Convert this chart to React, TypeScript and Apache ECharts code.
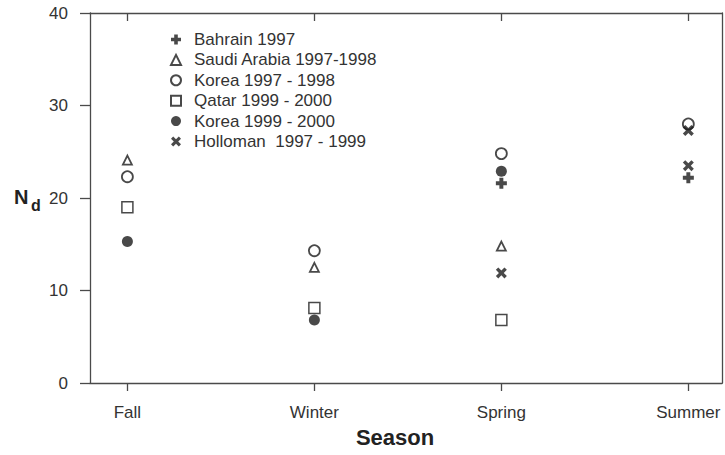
import React, { useEffect, useRef } from "react";
import * as echarts from "echarts";

const seasons = ["Fall", "Winter", "Spring", "Summer"];
const yTicks = [0, 10, 20, 30, 40];

const bahrain: [string, number][] = [["Spring", 21.6], ["Summer", 22.2]];
const saudi: [string, number][] = [["Fall", 24.1], ["Winter", 12.5], ["Spring", 14.8]];
const korea9798: [string, number][] = [["Fall", 22.3], ["Winter", 14.3], ["Spring", 24.8], ["Summer", 28.0]];
const qatar: [string, number][] = [["Fall", 19.0], ["Winter", 8.1], ["Spring", 6.8]];
const korea9900: [string, number][] = [["Fall", 15.3], ["Winter", 6.8], ["Spring", 22.9]];
const holloman: [string, number][] = [["Spring", 11.9], ["Summer", 27.3], ["Summer", 23.5]];

const seriesNames = [
  "Bahrain 1997",
  "Saudi Arabia 1997-1998",
  "Korea 1997 - 1998",
  "Qatar 1999 - 2000",
  "Korea 1999 - 2000",
  "Holloman  1997 - 1999",
];

const PLUS = "path://M3.2 0 L6.8 0 L6.8 3.2 L10 3.2 L10 6.8 L6.8 6.8 L6.8 10 L3.2 10 L3.2 6.8 L0 6.8 L0 3.2 L3.2 3.2 Z";
const CROSS = "path://M0 2.2 L2.2 0 L5 2.8 L7.8 0 L10 2.2 L7.2 5 L10 7.8 L7.8 10 L5 7.2 L2.2 10 L0 7.8 L2.8 5 Z";

const INK = "#1c1c1c";
const AXIS = "#4a4a4a";
const TXT = "#333";
const FONT = "Liberation Sans, Arial, Helvetica, sans-serif";

const toXY = (d: [string, number][]) => d.map(([s, v]) => [seasons.indexOf(s) + 1, v]);

export default function App() {
  const ref = useRef<HTMLDivElement>(null);
  useEffect(() => {
    if (!ref.current) return;
    const chart = echarts.init(ref.current, undefined, { renderer: "svg" });
    const tickVals = seasons.map((_, i) => i + 1);
    const openStyle = { color: "#fff", borderColor: INK, borderWidth: 1.8 };
    const option: any = {
      animation: false,
      backgroundColor: "#fff",
      textStyle: { fontFamily: FONT },
      grid: { left: 90, right: 3, top: 13, bottom: 72 },
      legend: {
        orient: "vertical",
        left: 170,
        top: 31,
        padding: 0,
        itemGap: 3.4,
        itemWidth: 10,
        itemHeight: 10,
        selectedMode: false,
        textStyle: { fontSize: 17, color: TXT, fontFamily: FONT, padding: [0, 0, 0, 8] },
        data: seriesNames,
      },
      xAxis: [
        {
          type: "value",
          position: "bottom",
          min: 0.8,
          max: 4.18,
          axisLine: { show: true, onZero: false, lineStyle: { color: AXIS, width: 1.3 } },
          axisTick: { show: true, length: 8, customValues: tickVals, lineStyle: { color: AXIS, width: 1.3 } },
          axisLabel: {
            customValues: tickVals,
            formatter: (v: number) => seasons[Math.round(v) - 1] ?? "",
            margin: 21,
            fontSize: 17,
            color: TXT,
            fontFamily: FONT,
          },
          splitLine: { show: false },
        },
        {
          type: "value",
          position: "top",
          min: 0.8,
          max: 4.18,
          axisLine: { show: true, onZero: false, lineStyle: { color: AXIS, width: 1.3 } },
          axisTick: { show: true, inside: true, length: 8, customValues: tickVals, lineStyle: { color: AXIS, width: 1.3 } },
          axisLabel: { show: false },
          splitLine: { show: false },
        },
      ],
      yAxis: [
        {
          type: "value",
          min: yTicks[0],
          max: yTicks[yTicks.length - 1],
          interval: 10,
          axisLine: { show: true, onZero: false, lineStyle: { color: AXIS, width: 1.3 } },
          axisTick: { show: true, length: 10, lineStyle: { color: AXIS, width: 1.3 } },
          axisLabel: { margin: 22, fontSize: 17, color: TXT, fontFamily: FONT },
          splitLine: { show: false },
        },
        {
          type: "value",
          position: "right",
          min: 0,
          max: 40,
          axisLine: { show: true, onZero: false, lineStyle: { color: AXIS, width: 1.3 } },
          axisTick: { show: false },
          axisLabel: { show: false },
          splitLine: { show: false },
        },
      ],
      series: [
        { name: seriesNames[0], type: "scatter", symbol: PLUS, symbolSize: 11, itemStyle: { color: INK }, data: toXY(bahrain) },
        { name: seriesNames[1], type: "scatter", symbol: "triangle", symbolSize: 9, itemStyle: openStyle, data: toXY(saudi) },
        { name: seriesNames[2], type: "scatter", symbol: "circle", symbolSize: 11, itemStyle: openStyle, data: toXY(korea9798) },
        { name: seriesNames[3], type: "scatter", symbol: "rect", symbolSize: 11, itemStyle: { ...openStyle, borderWidth: 1.5 }, data: toXY(qatar) },
        { name: seriesNames[4], type: "scatter", symbol: "circle", symbolSize: 11, itemStyle: { color: INK }, data: toXY(korea9900) },
        { name: seriesNames[5], type: "scatter", symbol: CROSS, symbolSize: 11, itemStyle: { color: INK }, data: toXY(holloman) },
      ],
      graphic: [
        {
          type: "text",
          x: 395,
          y: 437,
          style: { text: "Season", fill: "#222", font: "bold 22px " + FONT, align: "center", verticalAlign: "middle" },
        },
        {
          type: "text",
          x: 14,
          y: 197,
          style: { text: "N", fill: "#222", font: "bold 20px " + FONT, align: "left", verticalAlign: "middle" },
        },
        {
          type: "text",
          x: 31,
          y: 205,
          style: { text: "d", fill: "#222", font: "bold 16px " + FONT, align: "left", verticalAlign: "middle" },
        },
      ],
    };
    chart.setOption(option);
    return () => chart.dispose();
  }, []);
  return <div ref={ref} style={{ position: "fixed", left: 0, top: 0, width: 725, height: 455 }} />;
}
